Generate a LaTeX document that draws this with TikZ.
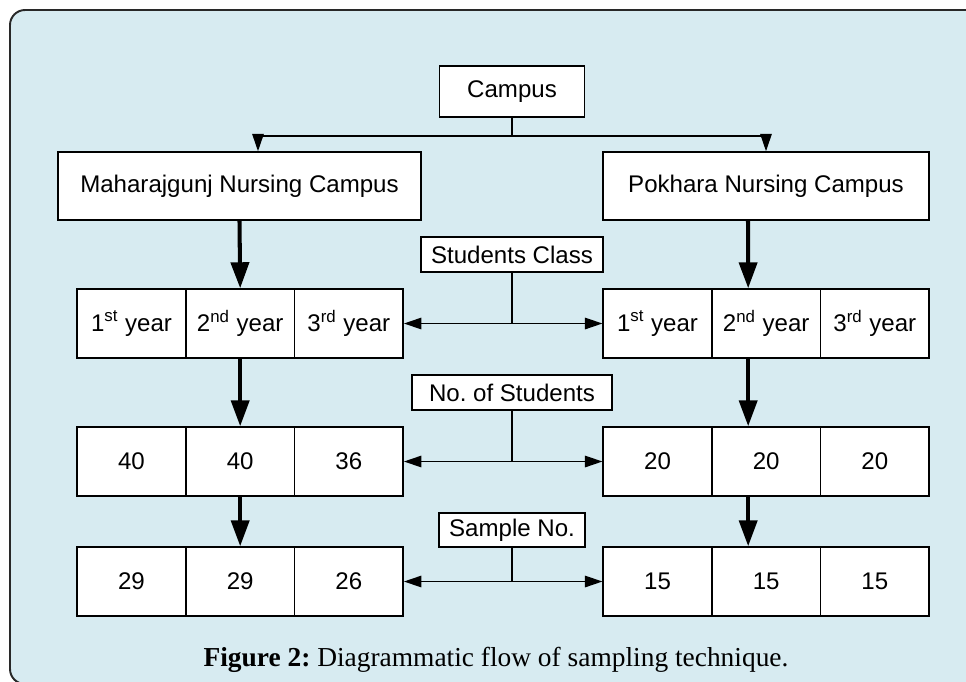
\documentclass[tikz,border=0pt]{standalone}
\usepackage{fontspec}
\setmainfont{Liberation Sans}
\newfontfamily\captionserif{Liberation Serif}
\usepackage{tikz}
\usetikzlibrary{positioning}
\usetikzlibrary{arrows.meta}
\usepackage{xcolor}
\definecolor{panelblue}{RGB}{215,235,241}
\definecolor{panelrim}{RGB}{40,40,40}
\frenchspacing

\begin{document}
\begin{tikzpicture}[x=0.02cm, y=-0.02cm, >={Triangle[length=0.35cm, width=0.23cm]}, node distance=2.174cm,
    box/.style={draw, fill=white, line width=0.85pt, inner sep=0pt, font=\fontsize{13.7}{16}\selectfont},
    cell/.style={box, minimum width=2.174cm, minimum height=1.38cm},
    tag/.style={box, minimum height=0.7cm},
    link/.style={line width=0.85pt},
    bigarrow/.style={line width=2.3pt, -{Triangle[length=0.52cm, width=0.36cm]}}]
    \path[use as bounding box] (0,0) rectangle (966,681);
    \clip (0,0) rectangle (966,681);
    \draw[panelrim, fill=panelblue, line width=1.1pt, rounded corners=0.3cm] (10,10) rectangle (1000,684);

    % top level
    \node[box, minimum width=2.9cm, minimum height=1.02cm] (campus) at (512,91.5) {Campus};
    \node[box, minimum width=7.26cm, minimum height=1.36cm] (mahar) at (239.5,186) {Maharajgunj Nursing Campus};
    \node[box, minimum width=6.52cm, minimum height=1.36cm] (pokh) at (766,186) {Pokhara Nursing Campus};

    % labels between the two sides
    \node[tag, minimum width=3.64cm] (studcls) at (512,254.5) {Students Class};
    \node[tag, minimum width=4.0cm] (nostud) at (512,392.5) {No. of Students};
    \node[tag, minimum width=2.92cm, minimum height=0.68cm] (sampno) at (512,530) {Sample No.};

    % Maharajgunj side
    \node[cell] (my1) at (131.5,323.5) {1\textsuperscript{st} year};
    \node[cell, right of=my1] (my2) {2\textsuperscript{nd} year};
    \node[cell, right of=my2] (my3) {3\textsuperscript{rd} year};
    \node[cell] (mn1) at (131.5,461.5) {40};
    \node[cell, right of=mn1] (mn2) {40};
    \node[cell, right of=mn2] (mn3) {36};
    \node[cell] (ms1) at (131.5,581.5) {29};
    \node[cell, right of=ms1] (ms2) {29};
    \node[cell, right of=ms2] (ms3) {26};

    % Pokhara side
    \node[cell] (py1) at (657.5,323.5) {1\textsuperscript{st} year};
    \node[cell, right of=py1] (py2) {2\textsuperscript{nd} year};
    \node[cell, right of=py2] (py3) {3\textsuperscript{rd} year};
    \node[cell] (pn1) at (657.5,461.5) {20};
    \node[cell, right of=pn1] (pn2) {20};
    \node[cell, right of=pn2] (pn3) {20};
    \node[cell] (ps1) at (657.5,581.5) {15};
    \node[cell, right of=ps1] (ps2) {15};
    \node[cell, right of=ps2] (ps3) {15};

    \node[font=\captionserif\fontsize{15.6}{18}\selectfont] (caption) at (496,660) {\textbf{Figure 2:} Diagrammatic flow of sampling technique.};

    % campus split
    \coordinate (fork) at (512,136);
    \draw[link] (campus) -- (fork);
    \draw[link, ->] (fork) -| ([xshift=0.37cm]mahar.north);
    \draw[link, ->] (fork) -| (pokh.north);

    % thick arrows
    \draw[bigarrow] (mahar.south) -- (my2.north);
    \draw[bigarrow] (my2.south) -- (mn2.north);
    \draw[bigarrow] (mn2.south) -- (ms2.north);
    \draw[bigarrow] ([xshift=-0.36cm]pokh.south) -- ([xshift=-0.36cm]py2.north);
    \draw[bigarrow] ([xshift=-0.36cm]py2.south) -- ([xshift=-0.36cm]pn2.north);
    \draw[bigarrow] ([xshift=-0.36cm]pn2.south) -- ([xshift=-0.36cm]ps2.north);

    % labels to both rows
    \coordinate (hub1) at (studcls.south |- my3.east);
    \draw[link] (studcls) -- (hub1);
    \draw[link, ->] (hub1) -- (my3);
    \draw[link, ->] (hub1) -- (py1);
    \coordinate (hub2) at (nostud.south |- mn3.east);
    \draw[link] (nostud) -- (hub2);
    \draw[link, ->] (hub2) -- (mn3);
    \draw[link, ->] (hub2) -- (pn1);
    \coordinate (hub3) at (sampno.south |- ms3.east);
    \draw[link] (sampno) -- (hub3);
    \draw[link, ->] (hub3) -- (ms3);
    \draw[link, ->] (hub3) -- (ps1);
\end{tikzpicture}
\end{document}
